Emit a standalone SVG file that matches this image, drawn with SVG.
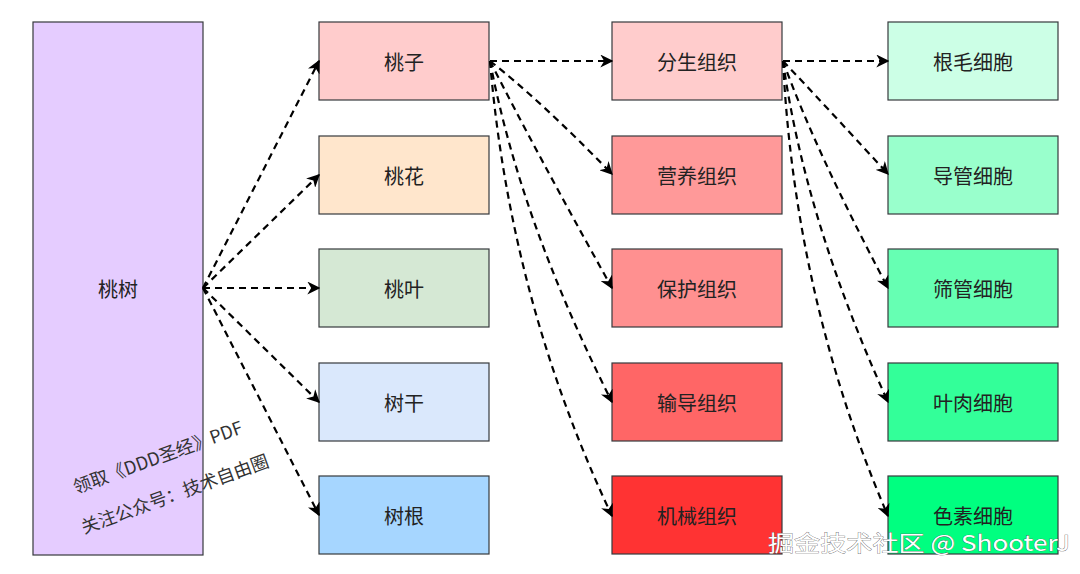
<svg xmlns="http://www.w3.org/2000/svg" width="1080" height="574" viewBox="0 0 1080 574">
<defs>
<marker id="a" viewBox="0 0 10 10" refX="9" refY="5" markerWidth="13" markerHeight="13" orient="auto" markerUnits="userSpaceOnUse"><path d="M0,0 L10,5 L0,10 L3,5 z" fill="#000"/></marker>
<style>
.n{stroke:#36393d;stroke-width:1.2}
.t{font-family:"Noto Sans CJK SC","Liberation Sans",sans-serif;font-size:20px;text-anchor:middle;dominant-baseline:central;fill:#222}
.e{fill:none;stroke:#000;stroke-width:2.2;stroke-dasharray:7,5;marker-end:url(#a)}
.w{font-family:"Noto Sans CJK SC",sans-serif;font-size:18px;fill:#333}
</style>
</defs>
<rect width="1080" height="574" fill="#fff"/>
<g id="n0"><rect class="n" x="33" y="22" width="170" height="533" fill="#E5CCFF"/><text class="t" x="118" y="288">桃树</text></g>
<g id="n1"><rect class="n" x="319" y="22" width="170" height="78" fill="#FFCCCC"/><text class="t" x="404" y="61">桃子</text></g>
<g id="n2"><rect class="n" x="319" y="136" width="170" height="78" fill="#FFE6CC"/><text class="t" x="404" y="175">桃花</text></g>
<g id="n3"><rect class="n" x="319" y="249" width="170" height="78" fill="#D5E8D4"/><text class="t" x="404" y="288">桃叶</text></g>
<g id="n4"><rect class="n" x="319" y="363" width="170" height="78" fill="#DAE8FC"/><text class="t" x="404" y="402">树干</text></g>
<g id="n5"><rect class="n" x="319" y="476" width="170" height="78" fill="#A6D6FF"/><text class="t" x="404" y="515">树根</text></g>
<g id="n6"><rect class="n" x="612" y="22" width="170" height="78" fill="#FFCCCC"/><text class="t" x="697" y="61">分生组织</text></g>
<g id="n7"><rect class="n" x="612" y="136" width="170" height="78" fill="#FF9999"/><text class="t" x="697" y="175">营养组织</text></g>
<g id="n8"><rect class="n" x="612" y="249" width="170" height="78" fill="#FF9090"/><text class="t" x="697" y="288">保护组织</text></g>
<g id="n9"><rect class="n" x="612" y="363" width="170" height="78" fill="#FF6666"/><text class="t" x="697" y="402">输导组织</text></g>
<g id="n10"><rect class="n" x="612" y="476" width="170" height="78" fill="#FF3333"/><text class="t" x="697" y="515">机械组织</text></g>
<g id="n11"><rect class="n" x="888" y="22" width="170" height="78" fill="#CCFFE6"/><text class="t" x="973" y="61">根毛细胞</text></g>
<g id="n12"><rect class="n" x="888" y="136" width="170" height="78" fill="#99FFCC"/><text class="t" x="973" y="175">导管细胞</text></g>
<g id="n13"><rect class="n" x="888" y="249" width="170" height="78" fill="#66FFB3"/><text class="t" x="973" y="288">筛管细胞</text></g>
<g id="n14"><rect class="n" x="888" y="363" width="170" height="78" fill="#33FF99"/><text class="t" x="973" y="402">叶肉细胞</text></g>
<g id="n15"><rect class="n" x="888" y="476" width="170" height="78" fill="#00FF80"/><text class="t" x="973" y="515">色素细胞</text></g>
<g id="edges">
<path class="e" d="M203,288 L319,61"/>
<path class="e" d="M203,288 L319,175"/>
<path class="e" d="M203,288 L319,288"/>
<path class="e" d="M203,288 L319,402"/>
<path class="e" d="M203,288 L319,515"/>
<path class="e" d="M490,61 L612,61"/>
<path class="e" d="M490,61 Q540,100 612,174"/>
<path class="e" d="M490,61 Q535,150 612,288"/>
<path class="e" d="M490,61 Q520,220 612,402"/>
<path class="e" d="M490,61 Q510,300 612,516"/>
<path class="e" d="M783,61 L888,61"/>
<path class="e" d="M783,61 Q820,100 888,174"/>
<path class="e" d="M783,61 Q815,150 888,288"/>
<path class="e" d="M783,61 Q805,220 888,402"/>
<path class="e" d="M783,61 Q795,300 888,516"/>
</g>
<text class="w" transform="translate(76,494) rotate(-20)">领取《DDD圣经》PDF</text>
<text class="w" transform="translate(84,534) rotate(-20)">关注公众号：技术自由圈</text>
<text x="768" y="551" font-family="Noto Sans CJK SC,sans-serif" font-size="22" fill="#fff" stroke="#555" stroke-width="0.6" paint-order="stroke" textLength="302" lengthAdjust="spacingAndGlyphs">掘金技术社区 @ ShooterJ</text>
</svg>
